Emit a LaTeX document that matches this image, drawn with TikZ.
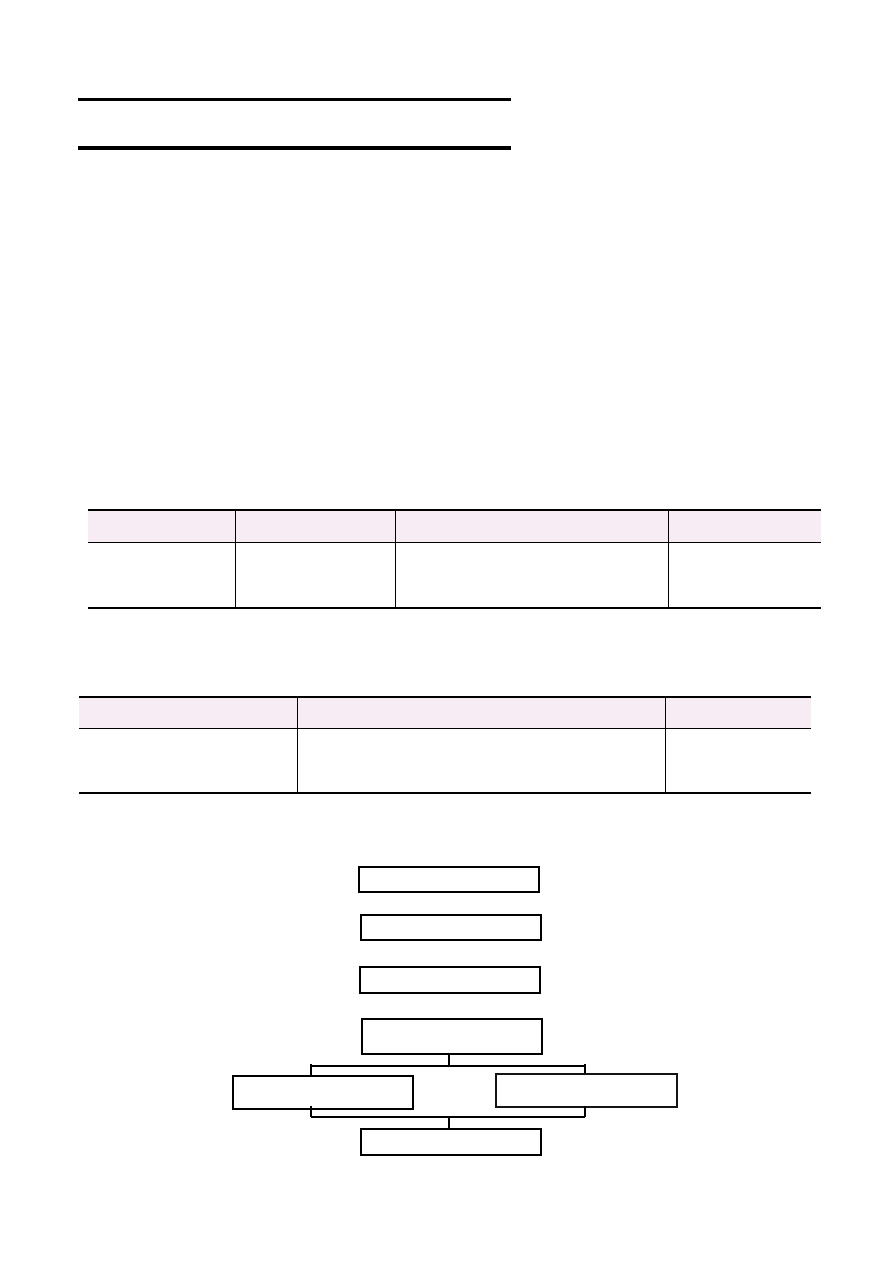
\documentclass[tikz,border=0pt]{standalone}
\usetikzlibrary{calc}
\definecolor{hdr}{HTML}{F7ECF4}
\begin{document}
\begin{tikzpicture}[x=1pt,y=-1pt,
  box/.style={draw,rectangle,line width=2pt,inner sep=0pt,minimum width=180pt},
  conn/.style={line width=1.8pt},
  tick/.style={line width=2.4pt},
  vline/.style={line width=1pt}]
\useasboundingbox (0,0) rectangle (893,1262);
\fill[white] (0,0) rectangle (893,1262);
% top rules
\draw[line width=3.2pt] (78,99.5) -- (511,99.5);
\draw[line width=3.2pt] (78,148) -- (511,148);
% table 1
\fill[hdr] (88,510) rectangle (821,542);
\draw[line width=1.5pt] (88,510) -- (821,510);
\draw[line width=1pt] (88,542) -- (821,542);
\draw[line width=2pt] (88,607.5) -- (821,607.5);
\foreach \x in {235.5,395,668.5} \draw[vline] (\x,510) -- (\x,607);
% table 2
\fill[hdr] (79,697) rectangle (811,728);
\draw[line width=1.3pt] (79,697) -- (811,697);
\draw[line width=1pt] (79,728) -- (811,728);
\draw[line width=2pt] (79,793) -- (811,793);
\foreach \x in {297.5,665.5} \draw[vline] (\x,697) -- (\x,792.5);
% flowchart
\node[box,minimum height=25pt] (b1) at (449,879.5) {};
\node[box,minimum height=25pt] (b2) at (451,927.5) {};
\node[box,minimum height=26pt,line width=2.6pt] (b3) at (450,980) {};
\node[box,minimum height=34.5pt] (b4) at (452,1036.5) {};
\node[box,minimum height=33pt,minimum width=180.5pt] (b5) at (323,1092.3) {};
\node[box,minimum height=33pt,minimum width=180.7pt,draw=black!92] (b6) at (586.7,1090.5) {};
\node[box,minimum height=25.5pt] (b7) at (451,1142) {};
% upper bracket
\coordinate (j1) at (449,1066);
\coordinate (l1) at (311,1066);
\coordinate (r1) at (585,1066);
\draw[conn] (j1 |- b4.south) -- (j1);
\draw[conn] (l1) -- (r1);
\draw[tick] ($(l1)+(0,-2)$) -- (l1 |- b5.north);
\draw[tick] ($(r1)+(0,-2)$) -- (r1 |- b6.north);
% lower bracket
\coordinate (j2) at (449,1117);
\coordinate (l2) at (311,1117);
\coordinate (r2) at (585,1117);
\draw[tick] (311,1105.5) -- (l2);
\draw[tick] (585,1105.5) -- (r2);
\draw[conn] (l2) -- (r2);
\draw[conn] (j2) -- (j2 |- b7.north);
\end{tikzpicture}
\end{document}
